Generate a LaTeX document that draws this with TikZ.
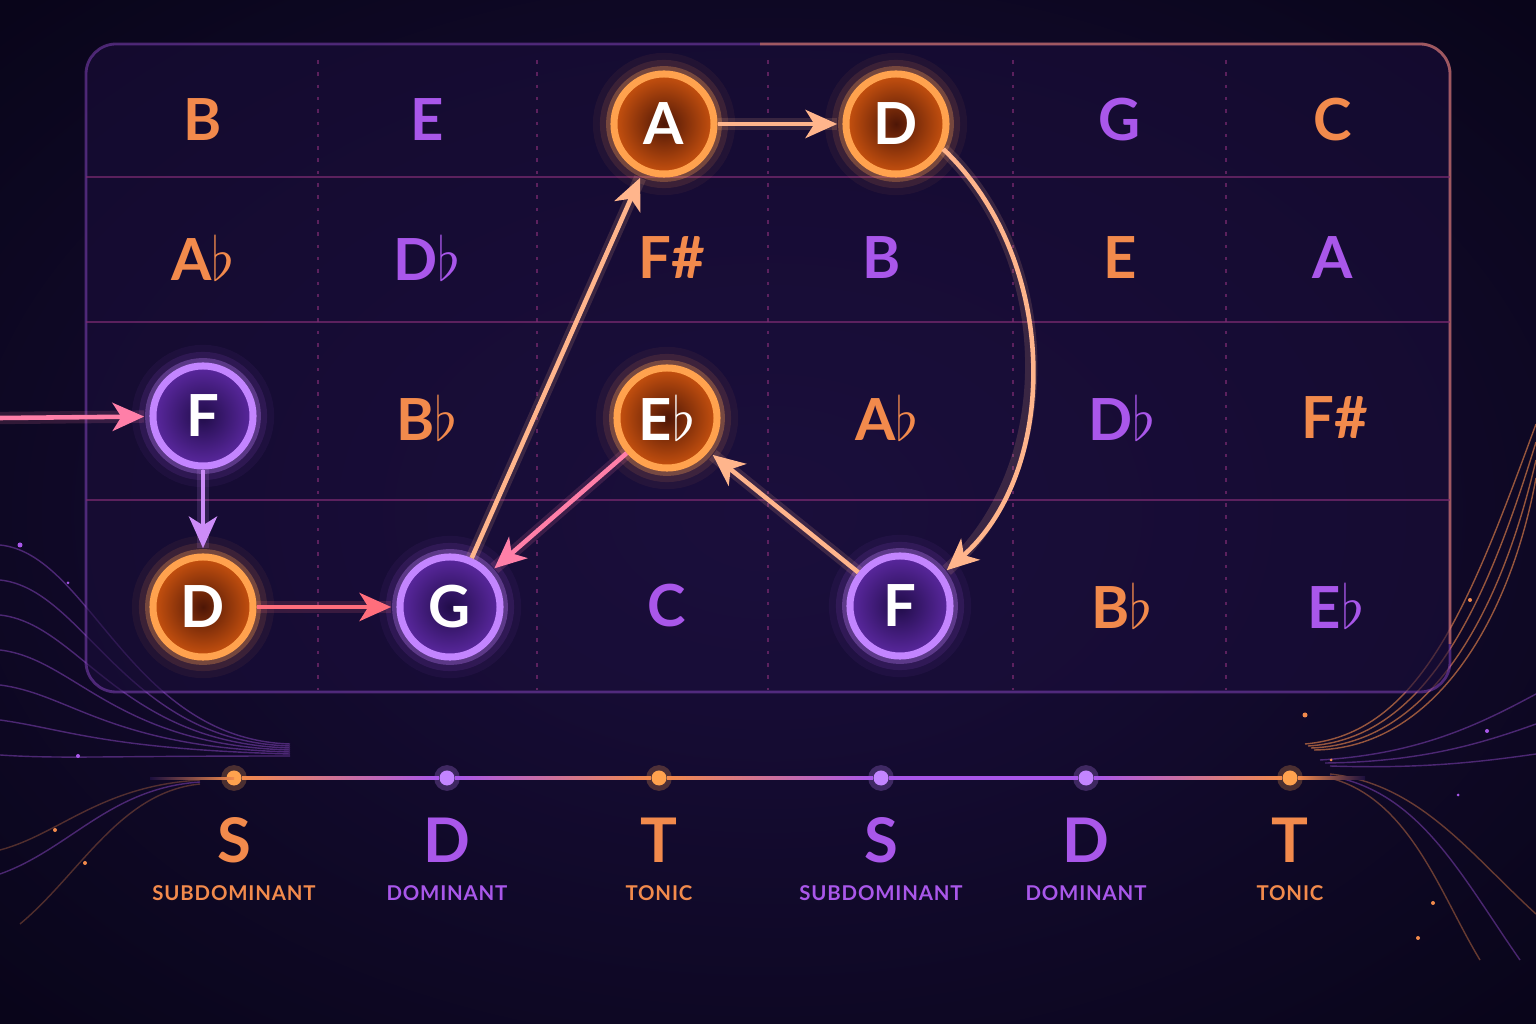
\documentclass[tikz,border=0pt]{standalone}
\usepackage{fontspec}
\setmainfont{Lato}
\newfontfamily\tagfont[LetterSpace=4]{Lato}
\usetikzlibrary{arrows.meta}

\definecolor{bgmid}{HTML}{1B0F3E}
\definecolor{bgedge}{HTML}{09051A}
\definecolor{panelfill}{HTML}{1A0E3A}
\definecolor{noteorange}{HTML}{F28A4C}
\definecolor{notepurple}{HTML}{A957EA}
\definecolor{ringorange}{HTML}{FFA24E}
\definecolor{ringpurple}{HTML}{C385FF}
\definecolor{coreorange}{HTML}{4E1606}
\definecolor{rimorange}{HTML}{C9520F}
\definecolor{corepurple}{HTML}{210D4A}
\definecolor{rimpurple}{HTML}{5B28A0}
\definecolor{arrowpink}{HTML}{FF7FA8}
\definecolor{arrowpeach}{HTML}{FFB58C}
\definecolor{arrowred}{HTML}{FF6E7C}
\definecolor{arrowlav}{HTML}{CC8CF8}
\definecolor{gridline}{HTML}{7A2A70}

\tikzset{
  cell/.style={font=\fontsize{16.5}{18}\selectfont\bfseries, inner sep=0pt, text=#1},
  orangenote/.style={circle, minimum size=1cm, inner sep=0pt, line width=2pt,
    draw=ringorange, inner color=coreorange, outer color=rimorange, text=white,
    font=\fontsize{16.5}{18}\selectfont\bfseries,
    preaction={draw=noteorange, line width=12pt, opacity=0.06},
    preaction={draw=noteorange, line width=8pt, opacity=0.12},
    preaction={draw=ringorange, line width=4.5pt, opacity=0.3}},
  purplenote/.style={circle, minimum size=1cm, inner sep=0pt, line width=2pt,
    draw=ringpurple, inner color=corepurple, outer color=rimpurple, text=white,
    font=\fontsize{16.5}{18}\selectfont\bfseries,
    preaction={draw=notepurple, line width=12pt, opacity=0.06},
    preaction={draw=notepurple, line width=8pt, opacity=0.12},
    preaction={draw=ringpurple, line width=4.5pt, opacity=0.3}},
  link/.style={draw=#1, line width=1.3pt, shorten >=1.5pt,
    -{Stealth[length=9pt,width=8pt,inset=2.5pt]},
    preaction={draw=#1, line width=3.5pt, opacity=0.15, arrows=-}},
  dot/.style={circle, minimum size=0.15cm, inner sep=0pt, fill=#1,
    preaction={draw=#1, line width=3pt, opacity=0.25}},
  swirl/.style={draw=#1, opacity=0.4, line width=0.4pt},
  fnletter/.style={font=\fontsize{17.5}{19}\selectfont\bfseries, inner sep=0pt, text=#1},
  fnname/.style={font=\tagfont\fontsize{5.8}{7}\selectfont\bfseries, inner sep=0pt, text=#1},
}

\begin{document}
\begin{tikzpicture}[x=0.01cm, y=0.01cm]
    \useasboundingbox (0,0) rectangle (1536,1024);
    \shade[inner color=bgmid, outer color=bgedge] (-300,-200) rectangle (1836,1224);

    % background swirls, left
    \draw[swirl=notepurple] (0,479) .. controls (90,470) and (130,285) .. (290,280);
    \draw[swirl=notepurple] (0,444) .. controls (85,435) and (125,283) .. (290,278);
    \draw[swirl=notepurple] (0,409) .. controls (80,400) and (120,281) .. (290,276);
    \draw[swirl=notepurple] (0,374) .. controls (75,365) and (115,279) .. (290,274);
    \draw[swirl=notepurple] (0,339) .. controls (70,330) and (110,277) .. (290,272);
    \draw[swirl=notepurple] (0,304) .. controls (65,295) and (105,275) .. (290,270);
    \draw[swirl=notepurple] (0,269) .. controls (60,265) and (100,268) .. (290,268);
    \draw[swirl=noteorange, opacity=0.3] (0,174) .. controls (60,190) and (100,238) .. (200,244);
    \draw[swirl=notepurple] (0,150) .. controls (70,175) and (110,236) .. (200,242);
    \draw[swirl=noteorange, opacity=0.3] (20,100) .. controls (80,150) and (120,232) .. (200,240);
    % background swirls, right
    \draw[swirl=noteorange, opacity=0.6] (1305,280) .. controls (1420,290) and (1470,420) .. (1536,600);
    \draw[swirl=noteorange, opacity=0.6] (1308,278) .. controls (1425,285) and (1485,415) .. (1536,582);
    \draw[swirl=noteorange, opacity=0.6] (1311,276) .. controls (1430,280) and (1500,410) .. (1536,564);
    \draw[swirl=noteorange, opacity=0.6] (1314,274) .. controls (1435,275) and (1510,405) .. (1536,546);
    \draw[swirl=notepurple] (1320,264) .. controls (1420,270) and (1480,300) .. (1536,330);
    \draw[swirl=notepurple] (1325,261) .. controls (1420,262) and (1480,280) .. (1536,300);
    \draw[swirl=notepurple] (1330,258) .. controls (1420,255) and (1480,262) .. (1536,270);
    \draw[swirl=noteorange] (1330,250) .. controls (1420,240) and (1470,170) .. (1536,110);
    \draw[swirl=notepurple] (1330,248) .. controls (1420,232) and (1460,150) .. (1520,64);
    \draw[swirl=noteorange] (1330,246) .. controls (1410,225) and (1440,130) .. (1480,64);
    \fill[notepurple] (20,479) circle (2.5);
    \fill[notepurple] (68,441) circle (1.5);
    \fill[notepurple] (78,268) circle (2);
    \fill[noteorange] (55,194) circle (2);
    \fill[noteorange] (85,161) circle (2);
    \fill[noteorange] (1305,309) circle (2.5);
    \fill[noteorange] (1331,264) circle (1.5);
    \fill[notepurple] (1487,293) circle (2);
    \fill[notepurple] (1458,229) circle (1.5);
    \fill[noteorange] (1470,424) circle (2);
    \fill[noteorange] (1433,121) circle (2);
    \fill[noteorange] (1418,86) circle (2);

    % panel and grid
    \draw[rounded corners=0.3cm, fill=panelfill, fill opacity=0.6, draw=notepurple, draw opacity=0.4, line width=0.8pt] (86,332) rectangle (1450,980);
    \draw[noteorange, opacity=0.5, line width=0.8pt, rounded corners=0.3cm] (760,980) -- (1450,980) -- (1450,380);
    \draw[gridline, opacity=0.7, line width=0.5pt] (86,847) -- (1450,847);
    \draw[gridline, opacity=0.7, line width=0.5pt] (86,702) -- (1450,702);
    \draw[gridline, opacity=0.7, line width=0.5pt] (86,524) -- (1450,524);
    \draw[gridline, opacity=0.7, dash pattern=on 1pt off 2.5pt] (318,964) -- (318,334);
    \draw[gridline, opacity=0.7, dash pattern=on 1pt off 2.5pt] (537,964) -- (537,334);
    \draw[gridline, opacity=0.7, dash pattern=on 1pt off 2.5pt] (768,964) -- (768,334);
    \draw[gridline, opacity=0.7, dash pattern=on 1pt off 2.5pt] (1013,964) -- (1013,334);
    \draw[gridline, opacity=0.7, dash pattern=on 1pt off 2.5pt] (1226,964) -- (1226,334);

    % note cells
    \node[cell=noteorange] (r1c1) at (203,904) {B};
    \node[cell=notepurple] (r1c2) at (427,904) {E};
    \node[cell=notepurple] (r1c5) at (1120,904) {G};
    \node[cell=noteorange] (r1c6) at (1333,904) {C};
    \node[cell=noteorange] (r2c1) at (203,766) {A$\flat$};
    \node[cell=notepurple] (r2c2) at (427,766) {D$\flat$};
    \node[cell=noteorange] (r2c3) at (672,766) {F\#};
    \node[cell=notepurple] (r2c4) at (882,766) {B};
    \node[cell=noteorange] (r2c5) at (1120,766) {E};
    \node[cell=notepurple] (r2c6) at (1333,766) {A};
    \node[cell=noteorange] (r3c2) at (427,606) {B$\flat$};
    \node[cell=noteorange] (r3c4) at (887,606) {A$\flat$};
    \node[cell=notepurple] (r3c5) at (1122,606) {D$\flat$};
    \node[cell=noteorange] (r3c6) at (1335,606) {F\#};
    \node[cell=notepurple] (r4c3) at (667,418) {C};
    \node[cell=noteorange] (r4c5) at (1122,418) {B$\flat$};
    \node[cell=notepurple] (r4c6) at (1336,418) {E$\flat$};

    % progression
    \node[orangenote] (A) at (664,900) {A};
    \node[orangenote] (Dt) at (896,900) {D};
    \node[purplenote] (Fl) at (203,608) {F};
    \node[orangenote] (Dl) at (203,417) {D};
    \node[purplenote] (G) at (450,417) {G};
    \node[orangenote] (Eb) at (667,606) {E$\flat$};
    \node[purplenote] (Fr) at (900,418) {F};
    \coordinate (entry) at (0,606);

    \draw[link=arrowpink] (entry) -- (Fl);
    \draw[link=arrowlav] (Fl) -- (Dl);
    \draw[link=arrowred] (Dl) -- (G);
    \draw[link=arrowpeach] (G) -- (A);
    \draw[link=arrowpeach] (A) -- (Dt);
    \draw[link=arrowpeach] (Dt.-28) .. controls (1060,764) and (1060,554) .. (Fr.37);
    \draw[link=arrowpeach] (Fr) -- (Eb);
    \draw[link=arrowpink] (Eb) -- (G);

    % function line
    \node[dot=ringorange] (tS1) at (234,246) {};
    \node[dot=ringpurple] (tD1) at (447,246) {};
    \node[dot=ringorange] (tT1) at (659,246) {};
    \node[dot=ringpurple] (tS2) at (881,246) {};
    \node[dot=ringpurple] (tD2) at (1086,246) {};
    \node[dot=ringorange] (tT2) at (1290,246) {};
    \shade[left color=bgmid, right color=noteorange] (150,244.6) rectangle (tS1.center);
    \shade[left color=noteorange, right color=notepurple] ([yshift=-0.4pt]tS1.east) rectangle ([yshift=0.4pt]tD1.west);
    \shade[left color=notepurple, right color=noteorange] ([yshift=-0.4pt]tD1.east) rectangle ([yshift=0.4pt]tT1.west);
    \shade[left color=noteorange, right color=notepurple] ([yshift=-0.4pt]tT1.east) rectangle ([yshift=0.4pt]tS2.west);
    \shade[left color=notepurple, right color=notepurple] ([yshift=-0.4pt]tS2.east) rectangle ([yshift=0.4pt]tD2.west);
    \shade[left color=notepurple, right color=noteorange] ([yshift=-0.4pt]tD2.east) rectangle ([yshift=0.4pt]tT2.west);
    \shade[left color=noteorange, right color=bgmid] ([yshift=-0.4pt]tT2.east) rectangle (1365,247.4);

    \node[fnletter=noteorange] (lS1) at (234,184) {S};
    \node[fnletter=notepurple] (lD1) at (447,184) {D};
    \node[fnletter=noteorange] (lT1) at (659,184) {T};
    \node[fnletter=notepurple] (lS2) at (881,184) {S};
    \node[fnletter=notepurple] (lD2) at (1086,184) {D};
    \node[fnletter=noteorange] (lT2) at (1290,184) {T};
    \node[fnname=noteorange] (nS1) at (234,131) {SUBDOMINANT};
    \node[fnname=notepurple] (nD1) at (447,131) {DOMINANT};
    \node[fnname=noteorange] (nT1) at (659,131) {TONIC};
    \node[fnname=notepurple] (nS2) at (881,131) {SUBDOMINANT};
    \node[fnname=notepurple] (nD2) at (1086,131) {DOMINANT};
    \node[fnname=noteorange] (nT2) at (1290,131) {TONIC};
\end{tikzpicture}
\end{document}
